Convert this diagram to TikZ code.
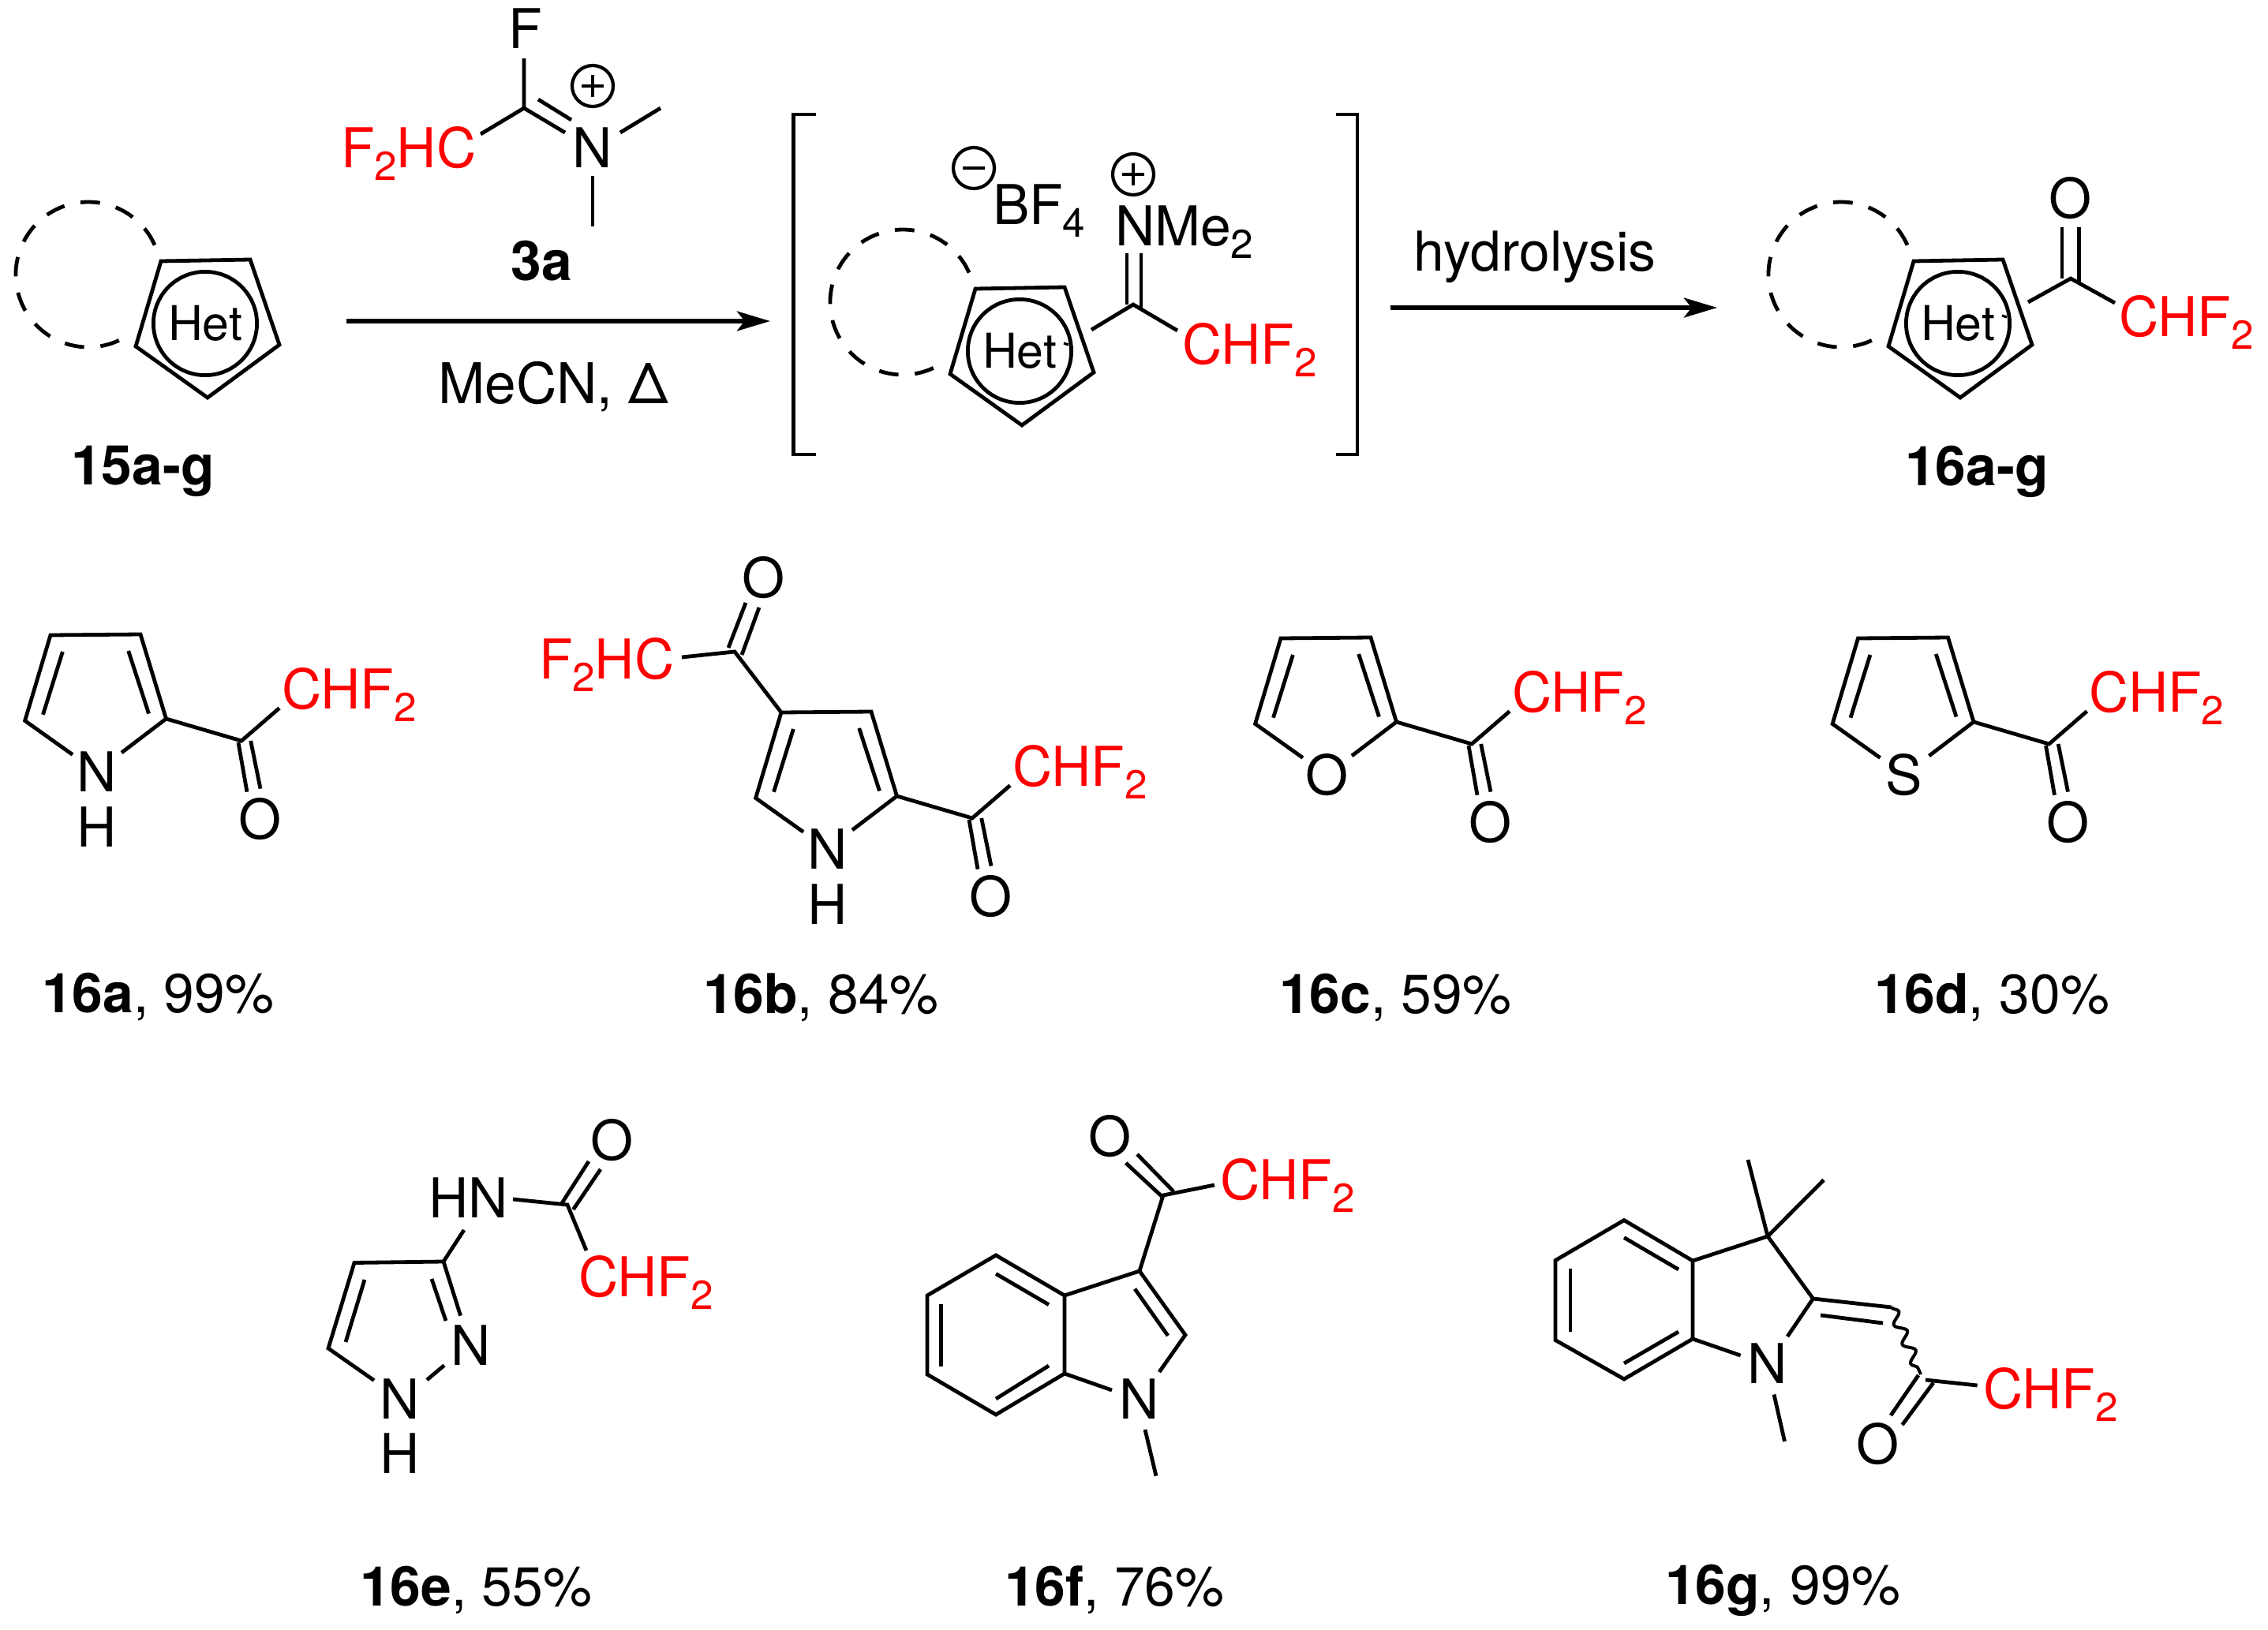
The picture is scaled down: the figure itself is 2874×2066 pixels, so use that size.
\documentclass[tikz,border=0pt]{standalone}
\usepackage{fontspec}
\setmainfont{TeX Gyre Heros}
\usetikzlibrary{arrows.meta,decorations.pathmorphing}
\newcommand\mainsz{\fontsize{17.4}{20}\selectfont}
\newcommand\sbt[1]{\raisebox{-4pt}{\fontsize{12.8}{14}\selectfont #1}}
\newcommand\chfb{CHF\sbt{2}}
\tikzset{
  bond/.style={line width=1.2pt,line join=miter,black},
  wavy/.style={line width=1pt,decorate,decoration={snake,segment length=6.7pt,amplitude=1.6pt,pre length=0pt,post length=0pt}},
  rxn/.style={line width=1.4pt,-{Stealth[length=10.5pt,width=6.2pt,inset=2.4pt]}},
  ringdash/.style={line width=1.2pt,dash pattern=on 6.2pt off 5.2pt},
  lbl/.style={inner sep=0pt,outer sep=0pt,anchor=base west,font=\mainsz,xshift=-1pt},
  ctr/.style={inner sep=0pt,outer sep=0pt,anchor=base,font=\mainsz},
  redlbl/.style={lbl,text=red},
  hetring/.style={circle,draw,line width=1.2pt,minimum size=32.8pt,inner sep=0pt,font=\fontsize{15.2}{16}\selectfont},
  chg/.style={circle,draw,line width=1.05pt,minimum size=13pt,inner sep=0pt}
}
% fused ring with dashed arc and Het circle
\newcommand\hetunit[3]{%
\begin{scope}[shift={(#2,#3)}]
  \coordinate (#1a) at (204,331);
  \coordinate (#1b) at (317,329);
  \coordinate (#1c) at (354,437);
  \coordinate (#1d) at (263,504);
  \coordinate (#1e) at (172,439);
  \coordinate (#1s) at (196,310.6);
  \draw[bond] (#1a)--(#1b)--(#1c)--(#1d)--(#1e)--cycle;
  \node[hetring] (#1h) at (260,410) {Het};
  \draw[ringdash] (#1s) arc[start angle=24,end angle=295,radius=23pt];
\end{scope}}
% stray tick beside Het
\newcommand\hettick[3]{%
\begin{scope}[shift={(#2,#3)}]
  \coordinate (#1t1) at (316,400);
  \coordinate (#1t2) at (322,402);
  \draw[line width=0.8pt] (#1t1)--(#1t2);
\end{scope}}
% 5-ring 2-acyl heteroarene
\newcommand\acylring[4]{%
\begin{scope}[shift={(#2,#3)}]
  \coordinate (#1a) at (64,805);
  \coordinate (#1b) at (178,804);
  \coordinate (#1c) at (210.5,911);
  \coordinate (#1d) at (31.6,913.5);
  \coordinate (#1xl) at (92,956.5);
  \coordinate (#1xr) at (154,954);
  \coordinate (#1i1) at (79.4,826);
  \coordinate (#1i2) at (54.5,905.7);
  \coordinate (#1i3) at (162.7,825);
  \coordinate (#1i4) at (188.5,904.5);
  \coordinate (#1co) at (306,939);
  \coordinate (#1o1) at (302,941);
  \coordinate (#1o2) at (313,1003.7);
  \coordinate (#1o3) at (317.7,939);
  \coordinate (#1o4) at (330,999.6);
  \coordinate (#1f) at (354,897.5);
  \draw[bond] (#1xl)--(#1d)--(#1a)--(#1b)--(#1c)--(#1xr);
  \draw[bond] (#1i1)--(#1i2);
  \draw[bond] (#1i3)--(#1i4);
  \draw[bond] (#1c)--(#1co)--(#1f);
  \draw[bond] (#1o1)--(#1o2);
  \draw[bond] (#1o3)--(#1o4);
  \node[ctr] (#1x) at (122.5,1003) {#4};
  \node[ctr] (#1oo) at (330,1063) {O};
  \node[redlbl] (#1cf) at (361,898) {\chfb};
\end{scope}}
\begin{document}
\begin{tikzpicture}[x=0.25pt,y=-0.25pt]
\useasboundingbox (0,0) rectangle (2874,2066);
% ---------- reaction scheme ----------
\hetunit{u}{0}{0}
\node[ctr] (l15) at (181,614) {\bfseries 15a-g};
% reagent 3a
\node[ctr] (rF) at (666,62) {F};
\node[redlbl] (rCF) at (436,212) {F\sbt{2}HC};
\node[ctr] (rN) at (751,212) {N};
\node[chg] (rP) at (751,109) {};
\coordinate (rc) at (664,137);
\coordinate (rfe) at (664,74);
\coordinate (rne) at (716,168);
\coordinate (rd1) at (682,126);
\coordinate (rd2) at (724,152);
\coordinate (rce) at (609,170);
\coordinate (rm1) at (786,168);
\coordinate (rm2) at (837,137);
\coordinate (rm3) at (751,223);
\coordinate (rm4) at (751,287);
\coordinate (rp1) at (737,109);
\coordinate (rp2) at (765,109);
\coordinate (rp3) at (751,95);
\coordinate (rp4) at (751,123);
\draw[bond] (rfe)--(rc)--(rne);
\draw[bond] (rd1)--(rd2);
\draw[bond] (rc)--(rce);
\draw[bond] (rm1)--(rm2);
\draw[bond] (rm3)--(rm4);
\draw[line width=1.05pt] (rp1)--(rp2);
\draw[line width=1.05pt] (rp3)--(rp4);
\node[ctr] (r3a) at (686,355) {\bfseries 3a};
\coordinate (a1s) at (439,407);
\coordinate (a1e) at (976,407);
\draw[rxn] (a1s)--(a1e);
\node[ctr] (cond) at (701,511) {\fontsize{17.8}{20}\selectfont MeCN, Δ};
% brackets
\coordinate (bl1) at (1034,145);
\coordinate (bl2) at (1005.5,145);
\coordinate (bl3) at (1005.5,576);
\coordinate (bl4) at (1034,576);
\coordinate (br1) at (1693,145);
\coordinate (br2) at (1720,145);
\coordinate (br3) at (1720,576);
\coordinate (br4) at (1693,576);
\draw[bond] (bl1)--(bl2)--(bl3)--(bl4);
\draw[bond] (br1)--(br2)--(br3)--(br4);
% intermediate
\hetunit{v}{1032}{35}
\hettick{v}{1032}{35}
\node[chg] (iM) at (1234,213) {};
\coordinate (im1) at (1220,213);
\coordinate (im2) at (1248,213);
\draw[line width=1.05pt] (im1)--(im2);
\node[lbl] (iBF) at (1262,284) {BF\sbt{4}};
\node[chg] (iP) at (1436,221) {};
\coordinate (ip1) at (1422,221);
\coordinate (ip2) at (1450,221);
\coordinate (ip3) at (1436,207);
\coordinate (ip4) at (1436,235);
\draw[line width=1.05pt] (ip1)--(ip2);
\draw[line width=1.05pt] (ip3)--(ip4);
\node[lbl] (iN) at (1417,311) {NMe\sbt{2}};
\coordinate (ic) at (1436,386);
\coordinate (id1) at (1428,321);
\coordinate (id2) at (1428,386);
\coordinate (id3) at (1446,321);
\coordinate (id4) at (1446,391);
\coordinate (ir) at (1383,418);
\coordinate (if) at (1492,419);
\draw[bond] (id1)--(id2);
\draw[bond] (id3)--(id4);
\draw[bond] (ir)--(ic)--(if);
\node[redlbl] (iCF) at (1502,461) {\chfb};
\coordinate (a2s) at (1762,390);
\coordinate (a2e) at (2176,390);
\draw[rxn] (a2s)--(a2e);
\node[ctr] (hyd) at (1945,343) {hydrolysis};
% product
\hetunit{w}{2221}{0}
\hettick{w}{2221}{0}
\coordinate (pc) at (2624,353);
\coordinate (pr) at (2570,383);
\coordinate (pf) at (2680,384);
\coordinate (pd1) at (2613,288);
\coordinate (pd2) at (2613,353);
\coordinate (pd3) at (2634.5,288);
\coordinate (pd4) at (2634.5,358);
\draw[bond] (pr)--(pc)--(pf);
\draw[bond] (pd1)--(pd2);
\draw[bond] (pd3)--(pd4);
\node[ctr] (pO) at (2624,276) {O};
\node[redlbl] (pCF) at (2689,426) {\chfb};
\node[ctr] (l16) at (2505,615) {\bfseries 16a-g};
% ---------- 16a-d ----------
\acylring{a}{0}{0}{N}
\node[ctr] (aH) at (122.5,1073) {H};
\node[lbl] (l16a) at (57,1283) {\textbf{16a}, 99\%};
\acylring{b}{926}{98}{N}
\node[ctr] (bH) at (1048.5,1171) {H};
\coordinate (bk) at (931,826);
\coordinate (bk1) at (923,821);
\coordinate (bk2) at (945,764);
\coordinate (bk3) at (940,830);
\coordinate (bk4) at (962,770);
\coordinate (bke) at (864,833);
\draw[bond] (ba)--(bk)--(bke);
\draw[bond] (bk1)--(bk2);
\draw[bond] (bk3)--(bk4);
\node[ctr] (bO) at (968,757) {O};
\node[redlbl] (bCF) at (687,860) {F\sbt{2}HC};
\node[lbl] (l16b) at (895,1284) {\textbf{16b}, 84\%};
\acylring{c}{1559}{4}{O}
\node[lbl] (l16c) at (1625,1284) {\textbf{16c}, 59\%};
\acylring{d}{2290.5}{4}{S}
\node[lbl] (l16d) at (2379,1284) {\textbf{16d}, 30\%};
% ---------- 16e ----------
\coordinate (ec) at (719,1527);
\coordinate (ed1) at (712,1525);
\coordinate (ed2) at (746,1472);
\coordinate (ed3) at (726.4,1533);
\coordinate (ed4) at (761,1482);
\coordinate (en) at (650,1520);
\coordinate (ef) at (743,1585);
\coordinate (e3) at (562,1599);
\coordinate (e3n) at (588,1559);
\coordinate (e4) at (449,1600.5);
\coordinate (e5) at (416,1709);
\coordinate (e5n) at (474,1749.6);
\coordinate (e2a) at (541,1749);
\coordinate (e2b) at (563,1730.5);
\coordinate (e2c) at (583.6,1667.6);
\coordinate (ei1) at (547,1621);
\coordinate (ei2) at (565,1674);
\coordinate (ei3) at (462,1622);
\coordinate (ei4) at (438,1701);
\draw[bond] (en)--(ec)--(ef);
\draw[bond] (ed1)--(ed2);
\draw[bond] (ed3)--(ed4);
\draw[bond] (e3n)--(e3)--(e4)--(e5)--(e5n);
\draw[bond] (e3)--(e2c);
\draw[bond] (e2a)--(e2b);
\draw[bond] (ei1)--(ei2);
\draw[bond] (ei3)--(ei4);
\node[ctr] (eO) at (775.5,1470) {O};
\node[lbl] (eHN) at (547,1543.6) {HN};
\node[redlbl] (eCF) at (737,1643.4) {\chfb};
\node[ctr] (eN2) at (597,1730.5) {N};
\node[ctr] (eN1) at (507,1798.5) {N};
\node[ctr] (eH) at (507,1867) {H};
\node[lbl] (l16e) at (460,2035) {\textbf{16e}, 55\%};
% ---------- 16f ----------
\coordinate (f1) at (1262,1591);
\coordinate (f2) at (1349,1642);
\coordinate (f3) at (1349,1741);
\coordinate (f4) at (1262,1793);
\coordinate (f5) at (1175,1742);
\coordinate (f6) at (1175,1642);
\coordinate (fi1) at (1262,1614.5);
\coordinate (fi2) at (1329,1653.6);
\coordinate (fi3) at (1192.5,1653);
\coordinate (fi4) at (1192.5,1732);
\coordinate (fi5) at (1262,1773);
\coordinate (fi6) at (1329,1731);
\coordinate (f7) at (1444,1611);
\coordinate (f8) at (1502,1692);
\coordinate (fn1) at (1469,1739);
\coordinate (fn2) at (1409,1762);
\coordinate (fi7) at (1438,1633.6);
\coordinate (fi8) at (1480,1693);
\coordinate (fm1) at (1451,1812);
\coordinate (fm2) at (1465,1870.7);
\coordinate (fc) at (1474,1515);
\coordinate (fd1) at (1426.6,1474);
\coordinate (fd2) at (1474,1518);
\coordinate (fd3) at (1441,1463);
\coordinate (fd4) at (1487,1510);
\coordinate (ff) at (1539,1502);
\draw[bond] (f1)--(f2)--(f3)--(f4)--(f5)--(f6)--cycle;
\draw[bond] (fi1)--(fi2);
\draw[bond] (fi3)--(fi4);
\draw[bond] (fi5)--(fi6);
\draw[bond] (f2)--(f7)--(f8)--(fn1);
\draw[bond] (f3)--(fn2);
\draw[bond] (fi7)--(fi8);
\draw[bond] (fm1)--(fm2);
\draw[bond] (f7)--(fc)--(ff);
\draw[bond] (fd1)--(fd2);
\draw[bond] (fd3)--(fd4);
\node[ctr] (fN) at (1444,1798.5) {N};
\node[ctr] (fO) at (1407,1465) {O};
\node[redlbl] (fCF) at (1550,1520) {\chfb};
\node[lbl] (l16f) at (1277,2035) {\textbf{16f}, 76\%};
% ---------- 16g ----------
\coordinate (g1) at (2058,1546.6);
\coordinate (g2) at (2145,1598);
\coordinate (g3) at (2145,1697);
\coordinate (g4) at (2058,1748);
\coordinate (g5) at (1971,1698.6);
\coordinate (g6) at (1971,1597.5);
\coordinate (gi1) at (2058,1568.6);
\coordinate (gi2) at (2127,1609);
\coordinate (gi3) at (1990,1608);
\coordinate (gi4) at (1990,1688);
\coordinate (gi5) at (2058,1728);
\coordinate (gi6) at (2127,1688);
\coordinate (g7) at (2240,1567);
\coordinate (g8) at (2297.5,1646);
\coordinate (gn1) at (2265,1694);
\coordinate (gn2) at (2205.6,1718);
\coordinate (gm1) at (2248,1767.5);
\coordinate (gm2) at (2261.5,1827);
\coordinate (gm3) at (2215,1470);
\coordinate (gm4) at (2311,1495.6);
\coordinate (gx) at (2397,1657);
\coordinate (gx1) at (2307,1667);
\coordinate (gx2) at (2386,1677);
\coordinate (gw) at (2434,1742);
\coordinate (gd1) at (2431,1743);
\coordinate (gd2) at (2396,1794);
\coordinate (gd3) at (2450,1752.6);
\coordinate (gd4) at (2410.5,1806);
\coordinate (gc) at (2440,1749);
\coordinate (gf) at (2505.6,1756);
\draw[bond] (g1)--(g2)--(g3)--(g4)--(g5)--(g6)--cycle;
\draw[bond] (gi1)--(gi2);
\draw[bond] (gi3)--(gi4);
\draw[bond] (gi5)--(gi6);
\draw[bond] (g2)--(g7)--(g8)--(gn1);
\draw[bond] (g3)--(gn2);
\draw[bond] (gm1)--(gm2);
\draw[bond] (g7)--(gm3);
\draw[bond] (g7)--(gm4);
\draw[bond] (g8)--(gx);
\draw[bond] (gx1)--(gx2);
\draw[wavy] (gx)--(gw);
\draw[bond] (gd1)--(gd2);
\draw[bond] (gd3)--(gd4);
\draw[bond] (gc)--(gf);
\node[ctr] (gN) at (2240,1753.4) {N};
\node[ctr] (gO) at (2380,1855) {O};
\node[redlbl] (gCF) at (2517,1785) {\chfb};
\node[lbl] (l16g) at (2114,2033) {\textbf{16g}, 99\%};
\end{tikzpicture}
\end{document}
